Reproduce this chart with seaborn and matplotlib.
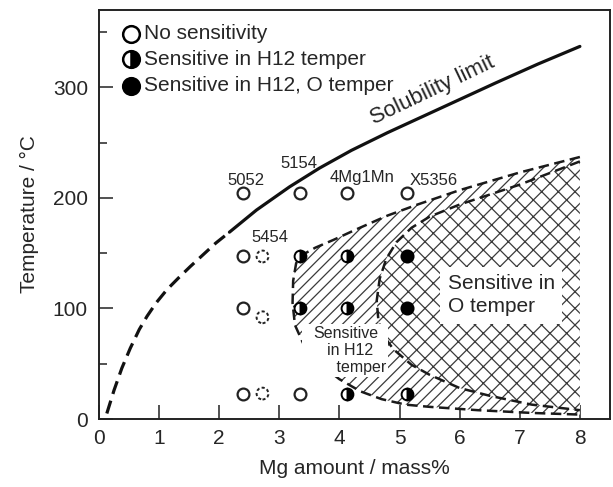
import matplotlib
matplotlib.use("Agg")
import matplotlib.pyplot as plt
from matplotlib.ticker import MultipleLocator
import pandas as pd
import seaborn as sns

# ---------------- data ----------------
# solubility limit (dashed part, then solid part)
sol_dash_mg = [0.13, 0.25, 0.38, 0.52, 0.67, 0.8, 0.95, 1.13, 1.33, 1.52, 1.72, 1.94, 2.17]
sol_dash_t = [5, 26, 46, 64, 81, 93, 105, 117, 128, 138, 148, 159, 169]
sol_solid_mg = [2.17, 2.62, 3.17, 3.67, 4.2, 4.8, 5.4, 6.0, 6.6, 7.3, 8.0]
sol_solid_t = [169, 189, 210, 227, 243, 259, 274, 289, 304, 321, 337]

# boundary of the region sensitive in H12 temper
h12_mg = [8.0, 7.0, 6.0, 5.3, 4.8, 4.3, 3.9, 3.6, 3.4, 3.28, 3.23, 3.22, 3.26,
          3.4, 3.67, 4.0, 4.35, 4.7, 5.1, 5.5, 6.3, 7.2, 8.0]
h12_t = [237, 223, 207, 194, 184, 172, 162, 155, 149, 141, 125, 105, 85,
         68, 50, 36, 25, 18, 13, 11, 8, 5.5, 4]

# boundary of the region sensitive in O temper
o_mg = [8.0, 7.0, 6.0, 5.5, 5.2, 4.95, 4.78, 4.67, 4.62, 4.65, 4.75, 4.9,
        5.2, 5.5, 6.0, 6.5, 7.2, 8.0]
o_t = [233, 212, 194, 183, 173, 160, 145, 127, 107, 88, 74, 63,
       49, 40, 28, 21, 13, 8]

# test points
pt_mg = [2.4, 2.4, 2.4, 2.4,
         2.72, 2.72, 2.72,
         3.35, 3.35, 3.35, 3.35,
         4.12, 4.12, 4.12, 4.12,
         5.13, 5.13, 5.13, 5.13]
pt_t = [204, 147, 100, 23,
        147, 92, 23,
        204, 147, 100, 23,
        204, 147, 100, 23,
        204, 147, 100, 23]
pt_state = ["none", "none", "none", "none",
            "none_dashed", "none_dashed", "none_dashed",
            "none", "half", "half", "none",
            "none", "half", "half", "half",
            "none", "full", "full", "half"]

alloy_names = ["5052", "5454", "5154", "4Mg1Mn", "X5356"]
alloy_label_mg = [2.44, 2.85, 3.32, 4.38, 5.57]
alloy_label_t = [216, 164, 231, 218, 216]

legend_labels = ["No sensitivity", "Sensitive in H12 temper",
                 "Sensitive in H12, O temper"]

# ---------------- style ----------------
sns.set_style("ticks")
plt.rcParams["font.family"] = ["Liberation Sans", "DejaVu Sans"]
plt.rcParams["hatch.linewidth"] = 0.9

fig = plt.figure(figsize=(6.13, 4.87), dpi=100)
ax = fig.add_axes([0.1615, 0.1396, 0.8335, 0.840])

# regions
ax.fill(h12_mg + [8.0], h12_t + [h12_t[0]], facecolor="white",
        edgecolor="#3a3a3a", hatch="///", linewidth=0, zorder=1)
ax.fill(o_mg + [8.0], o_t + [o_t[0]], facecolor="white",
        edgecolor="#3a3a3a", hatch="xx", linewidth=0, zorder=2)

# boundaries
df_h12 = pd.DataFrame({"mg": h12_mg, "t": h12_t})
df_o = pd.DataFrame({"mg": o_mg, "t": o_t})
sns.lineplot(data=df_h12, x="mg", y="t", sort=False, estimator=None, ax=ax,
             color="#1a1a1a", linewidth=1.8, linestyle=(0, (4.2, 2.2)), zorder=3)
sns.lineplot(data=df_o, x="mg", y="t", sort=False, estimator=None, ax=ax,
             color="#1a1a1a", linewidth=1.8, linestyle=(0, (4.2, 2.2)), zorder=3)

# solubility limit
df_sd = pd.DataFrame({"mg": sol_dash_mg, "t": sol_dash_t})
df_ss = pd.DataFrame({"mg": sol_solid_mg, "t": sol_solid_t})
sns.lineplot(data=df_sd, x="mg", y="t", sort=False, estimator=None, ax=ax,
             color="#111111", linewidth=2.3, linestyle=(0, (4.2, 2.2)), zorder=4)
sns.lineplot(data=df_ss, x="mg", y="t", sort=False, estimator=None, ax=ax,
             color="#111111", linewidth=2.3, zorder=4)

# points
pts = pd.DataFrame({"mg": pt_mg, "t": pt_t, "state": pt_state})
ms = 8.5
d = pts[pts.state == "none"]
ax.plot(d.mg, d.t, "o", ms=ms, mfc="white", mec="#222222", mew=1.6, zorder=6)
d = pts[pts.state == "none_dashed"]
ax.scatter(d.mg, d.t, s=ms ** 2, facecolors="white", edgecolors="#222222",
           linewidths=1.4, linestyle=(0, (1.6, 1.2)), zorder=6)
d = pts[pts.state == "full"]
sns.scatterplot(data=d, x="mg", y="t", ax=ax, s=ms ** 2 * 1.1, color="black",
                edgecolor="black", linewidth=1.2, zorder=6, legend=False)
d = pts[pts.state == "half"]
ax.plot(d.mg, d.t, "o", ms=ms, fillstyle="right", mfc="black",
        markerfacecoloralt="white", mec="black", mew=1.4, zorder=6)

# alloy names
for name, lx, ly in zip(alloy_names, alloy_label_mg, alloy_label_t):
    ax.text(lx, ly, name, ha="center", va="center", fontsize=12, zorder=7)

# region labels
ax.text(5.8, 112, "Sensitive in\nO temper", ha="left", va="center",
        fontsize=15, linespacing=1.3, zorder=7,
        bbox=dict(boxstyle="square,pad=0.35", facecolor="white",
                  edgecolor="none"))
ax.text(4.1, 62, "Sensitive\n  in H12\n       temper", ha="center",
        va="center", fontsize=11.5, linespacing=1.15, zorder=7,
        bbox=dict(boxstyle="square,pad=0.15", facecolor="white",
                  edgecolor="none"))
ax.text(5.55, 297, "Solubility limit", rotation=25.5, ha="center",
        va="center", fontsize=16, zorder=7)

# legend (manual)
leg_y = [0.9415, 0.879, 0.815]
ax.plot([0.0626], [leg_y[0]], "o", ms=12, mfc="white", mec="black", mew=1.8,
        transform=ax.transAxes, clip_on=False, zorder=8)
ax.plot([0.0626], [leg_y[1]], "o", ms=12, fillstyle="right", mfc="black",
        markerfacecoloralt="white", mec="black", mew=1.8,
        transform=ax.transAxes, clip_on=False, zorder=8)
ax.plot([0.0626], [leg_y[2]], "o", ms=12, mfc="black", mec="black", mew=1.8,
        transform=ax.transAxes, clip_on=False, zorder=8)
for yy, lab in zip(leg_y, legend_labels):
    ax.text(0.089, yy, lab, transform=ax.transAxes, ha="left", va="center",
            fontsize=15, zorder=8)

# axes
ax.set_xlim(0, 8.5)
ax.set_ylim(0, 370)
ax.xaxis.set_major_locator(MultipleLocator(1))
ax.yaxis.set_major_locator(MultipleLocator(100))
ax.yaxis.set_minor_locator(MultipleLocator(50))
ax.tick_params(axis="both", which="major", direction="in", length=10,
               width=1.1, labelsize=15, color="#222222")
ax.tick_params(axis="y", which="major", pad=8)
ax.tick_params(axis="x", which="major", pad=7)
ax.tick_params(axis="y", which="minor", direction="in", length=5.5,
               width=1.1, color="#222222")
for s in ax.spines.values():
    s.set_visible(True)
    s.set_linewidth(1.4)
    s.set_color("#222222")
ax.set_xlabel("Mg amount / mass%", fontsize=15, labelpad=8)
ax.set_ylabel("Temperature / °C", fontsize=15, labelpad=10)

fig.savefig("out.png", dpi=100)
